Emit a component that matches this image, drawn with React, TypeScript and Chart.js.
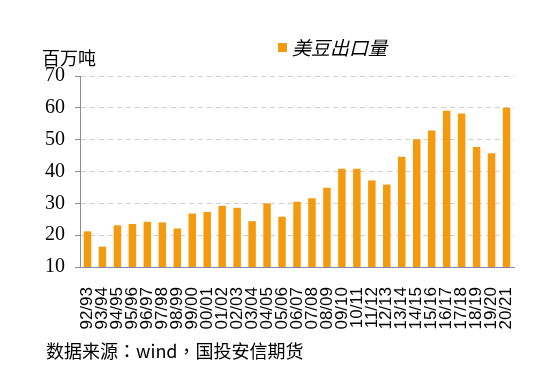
import React, { useEffect, useRef } from "react";
import { Chart, registerables } from "chart.js";

Chart.register(...registerables);

const categories = [
  "92/93", "93/94", "94/95", "95/96", "96/97", "97/98", "98/99", "99/00", "00/01", "01/02",
  "02/03", "03/04", "04/05", "05/06", "06/07", "07/08", "08/09", "09/10", "10/11", "11/12",
  "12/13", "13/14", "14/15", "15/16", "16/17", "17/18", "18/19", "19/20", "20/21",
];
const exportValues = [
  21.2, 16.4, 23.1, 23.5, 24.2, 24.0, 22.1, 26.8, 27.3, 29.2,
  28.6, 24.4, 30.0, 25.8, 30.5, 31.6, 34.9, 40.9, 40.9, 37.2,
  35.9, 44.6, 50.1, 52.9, 59.1, 58.2, 47.7, 45.7, 60.0,
];
const seriesName = "美豆出口量";
const unitLabel = "百万吨";
const sourceText = "数据来源：wind，国投安信期货";
const yMin = 10;
const yMax = 70;
const yStep = 10;

const BAR_COLOR = "#F39A0E";
const CJK = '"Noto Sans CJK SC", "Noto Sans", sans-serif';
const CJK_TC = '"Noto Sans CJK TC", "Noto Sans CJK SC", sans-serif';

const overlayPlugin = {
  id: "overlayText",
  afterDraw(chart: any) {
    const ctx = chart.ctx;
    ctx.save();
    ctx.fillStyle = "#000";
    ctx.textBaseline = "middle";
    // unit label
    ctx.font = `18px ${CJK}`;
    ctx.textAlign = "left";
    ctx.fillText(unitLabel, 42, 58);
    // legend
    ctx.fillStyle = BAR_COLOR;
    ctx.fillRect(278, 43, 9, 9);
    ctx.fillStyle = "#000";
    ctx.font = `italic 19px ${CJK}`;
    ctx.fillText(seriesName, 292, 48);
    // source
    ctx.font = `18px ${CJK_TC}`;
    ctx.fillText(sourceText, 46, 351);
    ctx.restore();
  },
};

export default function App() {
  const ref = useRef<HTMLCanvasElement | null>(null);
  useEffect(() => {
    if (!ref.current) return;
    const chart = new Chart(ref.current, {
      type: "bar",
      data: {
        labels: categories,
        datasets: [
          {
            label: seriesName,
            data: exportValues,
            backgroundColor: BAR_COLOR,
            borderWidth: 0,
            barPercentage: 0.5,
            categoryPercentage: 1,
          },
        ],
      },
      options: {
        animation: false,
        responsive: false,
        maintainAspectRatio: false,
        layout: { padding: { top: 76, left: 0, right: 33, bottom: 0 } },
        plugins: {
          legend: { display: false },
          title: { display: false },
          tooltip: { enabled: false },
        },
        scales: {
          x: {
            grid: { display: false },
            border: { display: true, color: "#8585B0", width: 1 },
            ticks: {
              autoSkip: false,
              minRotation: 90,
              maxRotation: 90,
              padding: 12,
              color: "#000",
              font: { family: '"Liberation Sans", Arial, sans-serif', size: 17 },
            },
            afterFit(scale: any) {
              scale.height = 111;
            },
          },
          y: {
            min: yMin,
            max: yMax,
            ticks: {
              stepSize: yStep,
              padding: 10,
              color: "#000",
              font: { family: '"Liberation Serif", "Times New Roman", serif', size: 20 },
            },
            grid: {
              color: "#CFCFCF",
              lineWidth: 1,
              drawTicks: true,
              tickLength: 5,
              tickColor: "#8C8C8C",
              tickBorderDash: [],
            },
            border: { display: true, color: "#8C8C8C", width: 1, dash: [5, 4] },
            afterFit(scale: any) {
              scale.width = 80;
            },
          },
        },
      },
      plugins: [overlayPlugin],
    });
    return () => chart.destroy();
  }, []);
  return (
    <div style={{ position: "fixed", left: 0, top: 0, width: 547, height: 378, background: "#fff" }}>
      <canvas ref={ref} width={547} height={378} style={{ display: "block" }} />
    </div>
  );
}
